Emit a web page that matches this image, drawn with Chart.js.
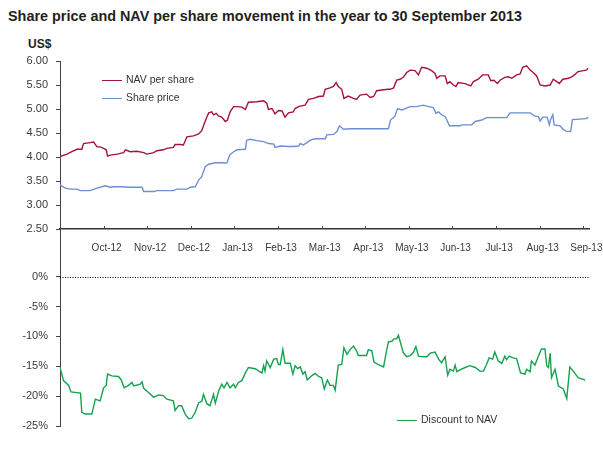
<!DOCTYPE html>
<html lang="en">
<head>
<meta charset="UTF-8">
<title>Share price and NAV per share movement</title>
<script src="https://cdn.jsdelivr.net/npm/chart.js"></script>
<style>
  body { margin: 0; background: #fff; font-family: 'Liberation Sans', Arial, sans-serif; }
  .wrap { position: relative; width: 603px; height: 450px; overflow: hidden; }
  .title { position: absolute; left: 8px; top: 8px; font-size: 14.4px; line-height: 17px; font-weight: bold; color: #231f20; white-space: nowrap; }
  .unit { position: absolute; left: 28px; top: 37px; font-size: 12px; line-height: 15px; font-weight: bold; color: #231f20; }
  canvas { position: absolute; left: 0; }
  #topChart { top: 0; }
  #bottomChart { top: 229px; }
  .legend { position: absolute; font-size: 10.5px; line-height: 12px; color: #333; white-space: nowrap; }
  .legend i { display: inline-block; width: 20px; height: 0; border-top: 1.5px solid; vertical-align: middle; margin-right: 4px; }
</style>
</head>
<body>
<div class="wrap">
  <div class="title">Share price and NAV per share movement in the year to 30 September 2013</div>
  <div class="unit">US$</div>
  <canvas id="topChart" width="603" height="262"></canvas>
  <canvas id="bottomChart" width="603" height="221"></canvas>
  <div class="legend" style="left:102px; top:73px;"><i style="border-color:#a6123f"></i>NAV per share</div>
  <div class="legend" style="left:102px; top:91px;"><i style="border-color:#6e8ed4"></i>Share price</div>
  <div class="legend" style="left:397px; top:413px;"><i style="border-color:#13a24f"></i>Discount to NAV</div>
</div>
<script>
// time in months since the start of the period (30 Sep 2012)
const monthLabels = ['Oct-12', 'Nov-12', 'Dec-12', 'Jan-13', 'Feb-13', 'Mar-13',
                     'Apr-13', 'May-13', 'Jun-13', 'Jul-13', 'Aug-13', 'Sep-13'];

const navT = [0.00,0.16,0.27,0.39,0.50,0.54,0.69,0.77,0.85,0.92,1.00,1.06,1.09,1.15,1.31,1.46,1.50,1.61,1.76,1.92,
  1.99,2.15,2.22,2.37,2.45,2.60,2.64,2.76,2.83,2.91,3.06,3.18,3.25,3.31,3.37,3.41,3.48,3.52,3.58,3.64,
  3.71,3.79,3.84,3.90,3.98,4.06,4.17,4.25,4.32,4.51,4.67,4.74,4.78,4.86,4.93,5.01,5.09,5.16,5.24,5.35,
  5.39,5.47,5.51,5.62,5.70,5.81,5.93,6.04,6.08,6.19,6.27,6.33,6.38,6.46,6.51,6.61,6.73,6.80,6.88,7.03,
  7.11,7.19,7.26,7.42,7.53,7.57,7.65,7.72,7.80,7.87,7.95,8.03,8.14,8.22,8.29,8.41,8.52,8.60,8.64,8.71,
  8.83,8.88,8.94,9.02,9.08,9.13,9.29,9.42,9.48,9.59,9.69,9.82,9.88,9.95,10.03,10.09,10.20,10.28,10.36,10.47,
  10.55,10.61,10.70,10.78,10.85,10.93,11.01,11.12,11.24,11.31,11.39,11.45,11.53,11.66,11.73,11.77,11.88,12.00,12.07,12.11];
const navV = [4.01,4.06,4.11,4.16,4.16,4.28,4.30,4.31,4.21,4.21,4.18,4.15,4.02,4.04,4.06,4.09,4.15,4.11,4.12,4.09,
  4.06,4.09,4.13,4.15,4.18,4.20,4.26,4.26,4.25,4.42,4.44,4.48,4.55,4.70,4.84,4.92,4.94,4.88,4.91,4.85,
  4.83,4.74,4.77,4.94,5.05,5.05,5.04,4.99,5.14,5.15,5.17,5.12,4.99,5.01,4.90,4.97,4.96,4.83,4.92,4.94,
  5.01,5.05,5.06,5.08,5.20,5.22,5.26,5.27,5.41,5.44,5.47,5.55,5.47,5.41,5.22,5.27,5.22,5.20,5.29,5.31,
  5.24,5.26,5.38,5.40,5.41,5.41,5.44,5.60,5.62,5.66,5.76,5.81,5.80,5.71,5.87,5.85,5.80,5.74,5.64,5.69,
  5.69,5.53,5.57,5.50,5.47,5.55,5.53,5.48,5.57,5.62,5.71,5.71,5.59,5.60,5.53,5.60,5.66,5.67,5.64,5.71,
  5.73,5.87,5.90,5.81,5.76,5.69,5.50,5.48,5.50,5.62,5.57,5.53,5.62,5.64,5.67,5.69,5.78,5.80,5.81,5.85];

const priceT = [0.00,0.12,0.24,0.39,0.47,0.69,0.85,1.04,1.15,1.23,1.46,1.53,1.88,1.92,2.15,2.22,2.60,2.68,2.91,2.99,
  3.10,3.18,3.25,3.33,3.41,3.56,3.71,3.79,3.83,3.89,3.98,4.06,4.25,4.28,4.36,4.51,4.67,4.78,4.90,4.93,
  5.05,5.24,5.35,5.47,5.51,5.58,5.66,5.74,5.85,6.08,6.12,6.27,6.35,6.41,6.50,6.65,7.03,7.53,7.58,7.68,
  7.74,7.84,8.03,8.18,8.33,8.45,8.56,8.62,8.68,8.75,8.83,8.87,8.93,9.17,9.21,9.44,9.52,9.67,9.78,10.24,
  10.32,10.78,10.89,10.97,11.01,11.07,11.17,11.22,11.25,11.30,11.33,11.47,11.53,11.60,11.71,11.75,12.07,12.11];
const priceV = [3.42,3.35,3.33,3.33,3.30,3.30,3.35,3.40,3.37,3.38,3.38,3.37,3.37,3.28,3.28,3.30,3.30,3.33,3.33,3.37,
  3.38,3.52,3.59,3.80,3.85,3.88,3.88,3.87,3.88,4.04,4.11,4.15,4.16,4.35,4.37,4.34,4.32,4.28,4.27,4.20,
  4.23,4.22,4.22,4.23,4.28,4.25,4.30,4.35,4.38,4.38,4.46,4.47,4.53,4.65,4.58,4.59,4.59,4.59,4.77,4.85,
  5.01,4.98,5.05,5.05,5.08,5.05,5.03,4.91,4.94,4.88,4.84,4.77,4.65,4.65,4.67,4.67,4.74,4.77,4.82,4.82,
  4.92,4.92,4.85,4.84,4.75,4.83,4.83,4.67,4.78,4.88,4.67,4.65,4.58,4.54,4.53,4.78,4.80,4.83];

const discT = [0.00,0.08,0.20,0.25,0.47,0.50,0.58,0.73,0.81,0.92,1.00,1.06,1.09,1.19,1.34,1.40,1.47,1.57,1.65,1.69,
  1.84,1.88,1.92,2.03,2.15,2.26,2.37,2.45,2.60,2.64,2.72,2.79,2.87,2.95,3.02,3.10,3.18,3.25,3.29,3.37,
  3.44,3.52,3.56,3.64,3.71,3.76,3.83,3.90,3.98,4.02,4.09,4.17,4.25,4.32,4.48,4.56,4.63,4.67,4.70,4.74,
  4.82,4.90,4.97,5.01,5.05,5.11,5.16,5.28,5.34,5.39,5.45,5.51,5.57,5.62,5.67,5.77,5.85,5.93,6.00,6.06,
  6.13,6.19,6.27,6.31,6.38,6.46,6.51,6.58,6.65,6.73,6.80,6.84,7.03,7.07,7.15,7.20,7.30,7.42,7.48,7.53,
  7.61,7.66,7.72,7.76,7.81,7.87,7.95,8.03,8.10,8.16,8.22,8.33,8.41,8.49,8.60,8.68,8.75,8.83,8.89,8.94,
  9.02,9.06,9.10,9.17,9.29,9.40,9.52,9.63,9.71,9.78,9.84,9.92,9.97,10.05,10.13,10.20,10.24,10.30,10.39,10.47,
  10.56,10.66,10.70,10.78,10.81,10.89,10.97,11.04,11.12,11.16,11.20,11.24,11.27,11.35,11.43,11.54,11.62,11.69,11.77,11.88,
  11.96,12.04];
const discV = [-15.2,-17.4,-18.2,-19.3,-19.5,-22.7,-23.0,-23.0,-20.5,-20.8,-18.6,-18.2,-16.3,-16.6,-16.7,-17.2,-18.6,-18.2,-17.7,-18.3,
  -18.0,-17.6,-18.7,-19.4,-20.2,-19.8,-19.9,-20.5,-20.8,-22.4,-21.6,-21.6,-23.0,-23.8,-23.7,-22.7,-21.1,-20.9,-19.7,-21.3,
  -21.6,-19.7,-21.2,-19.1,-18.0,-18.6,-17.7,-18.6,-18.0,-18.6,-17.7,-17.4,-16.1,-15.2,-15.4,-15.8,-16.1,-14.9,-15.8,-14.1,
  -15.2,-13.8,-13.7,-14.7,-14.7,-12.2,-14.5,-14.5,-16.3,-14.9,-15.4,-15.1,-16.3,-15.9,-17.3,-16.6,-16.2,-16.7,-16.9,-18.8,
  -17.3,-18.2,-18.2,-19.0,-14.8,-14.7,-11.9,-13.0,-12.2,-11.6,-12.4,-13.2,-13.2,-12.2,-12.4,-14.3,-14.7,-15.1,-12.7,-10.9,
  -10.8,-10.4,-10.4,-9.8,-11.1,-12.7,-13.4,-13.2,-12.7,-11.7,-13.3,-13.4,-13.4,-12.8,-12.6,-13.8,-14.4,-13.4,-16.5,-15.5,
  -15.8,-14.8,-15.9,-15.6,-15.2,-14.9,-15.2,-15.8,-15.8,-14.7,-13.6,-13.8,-12.6,-14.1,-14.5,-13.3,-13.9,-13.3,-13.6,-13.7,
  -16.1,-16.3,-15.5,-15.9,-14.1,-14.8,-13.3,-12.1,-12.1,-14.9,-15.2,-12.8,-16.9,-15.5,-18.3,-18.8,-20.4,-15.1,-15.8,-16.9,
  -17.1,-17.3];

function pts(t, v) {
  return t.map((x, i) => ({ x: x, y: v[i] }));
}

const tickFont = { family: "'Liberation Sans', Arial, sans-serif", size: 11 };
const xTickFont = { family: "'Liberation Sans', Arial, sans-serif", size: 10 };
const labelColor = '#3a3a3a';
const axisColor = '#444';

// small tick marks pointing up into the plot from the date axis
const innerTicks = {
  id: 'innerTicks',
  afterDraw(chart) {
    const { ctx, chartArea, scales: { x } } = chart;
    ctx.save();
    ctx.strokeStyle = axisColor;
    ctx.lineWidth = 1;
    x.ticks.forEach(t => {
      const px = Math.round(x.getPixelForValue(t.value)) + 0.5;
      ctx.beginPath();
      ctx.moveTo(px, chartArea.bottom);
      ctx.lineTo(px, chartArea.bottom - 3);
      ctx.stroke();
    });
    ctx.restore();
  }
};

// dotted 0% line
const zeroLine = {
  id: 'zeroLine',
  beforeDatasetsDraw(chart) {
    const { ctx, chartArea, scales: { y } } = chart;
    const py = Math.round(y.getPixelForValue(0)) + 0.5;
    ctx.save();
    ctx.strokeStyle = '#000';
    ctx.lineWidth = 1;
    ctx.setLineDash([1, 1.5]);
    ctx.beginPath();
    ctx.moveTo(chartArea.left, py);
    ctx.lineTo(chartArea.right, py);
    ctx.stroke();
    ctx.restore();
  }
};

new Chart(document.getElementById('topChart'), {
  type: 'line',
  data: {
    datasets: [
      { label: 'NAV per share', data: pts(navT, navV), borderColor: '#a6123f', borderWidth: 1.4, pointRadius: 0, tension: 0 },
      { label: 'Share price', data: pts(priceT, priceV), borderColor: '#6e8ed4', borderWidth: 1.4, pointRadius: 0, tension: 0 }
    ]
  },
  options: {
    responsive: false,
    animation: false,
    layout: { padding: { top: 61, right: 14, left: 0, bottom: 0 } },
    plugins: { legend: { display: false }, tooltip: { enabled: false } },
    scales: {
      x: {
        type: 'linear', min: 0, max: 12.13,
        grid: { display: false, drawTicks: false },
        border: { display: true, color: '#333', width: 1.5 },
        ticks: {
          autoSkip: false, maxRotation: 0, padding: 13, labelOffset: 3,
          font: xTickFont, color: labelColor,
          callback: v => monthLabels[v - 1] || ''
        },
        afterBuildTicks: s => { s.ticks = monthLabels.map((m, i) => ({ value: i + 1 })); },
        afterFit: s => { s.height = 33; s.paddingLeft = 0; s.paddingRight = 0; }
      },
      y: {
        min: 2.5, max: 6,
        ticks: { stepSize: 0.5, padding: 8, font: tickFont, color: labelColor, callback: v => v.toFixed(2) },
        grid: { drawOnChartArea: false, drawTicks: true, tickLength: 4, color: axisColor },
        border: { color: axisColor, width: 1 },
        afterFit: s => { s.width = 60; s.paddingTop = 0; s.paddingBottom = 0; }
      }
    }
  },
  plugins: [innerTicks]
});

new Chart(document.getElementById('bottomChart'), {
  type: 'line',
  data: {
    datasets: [
      { label: 'Discount to NAV', data: pts(discT, discV), borderColor: '#13a24f', borderWidth: 1.4, pointRadius: 0, tension: 0 }
    ]
  },
  options: {
    responsive: false,
    animation: false,
    layout: { padding: { top: 0, right: 14, left: 0, bottom: 24 } },
    plugins: { legend: { display: false }, tooltip: { enabled: false } },
    scales: {
      x: { type: 'linear', min: 0, max: 12.13, display: false },
      y: {
        min: -25, max: 8,
        ticks: { stepSize: 5, includeBounds: false, padding: 8, font: tickFont, color: labelColor, callback: v => v + '%' },
        afterBuildTicks: s => { s.ticks = s.ticks.filter(t => t.value <= 0); },
        grid: { drawOnChartArea: false, drawTicks: true, tickLength: 4, color: axisColor },
        border: { color: axisColor, width: 1 },
        afterFit: s => { s.width = 60; s.paddingTop = 0; s.paddingBottom = 0; }
      }
    }
  },
  plugins: [zeroLine]
});
</script>
</body>
</html>
